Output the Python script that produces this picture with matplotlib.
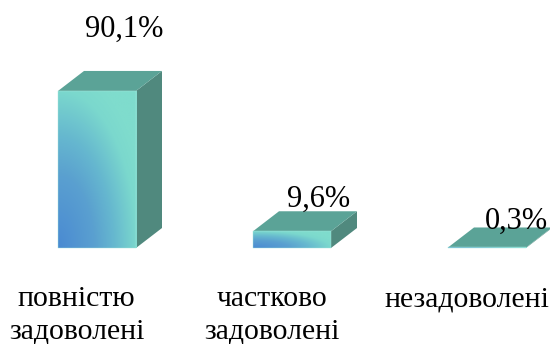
import numpy as np
import matplotlib
matplotlib.use('Agg')
import matplotlib.pyplot as plt
from matplotlib.colors import LinearSegmentedColormap
from matplotlib.patches import Polygon

categories = ['повністю\nзадоволені', 'частково\nзадоволені', 'незадоволені']
values = [90.1, 9.6, 0.3]
value_labels = ['90,1%', '9,6%', '0,3%']

plt.rcParams['font.family'] = ['Liberation Serif', 'DejaVu Serif']

# pixel scale of the picture
px_x = 195.0
px_y = 1.743
x0 = 97
base = 248

fig = plt.figure(figsize=(5.5, 3.44), dpi=100)
ax = fig.add_axes([0, 0, 1, 1])
ax.axis('off')

width = 78 / px_x
dx = 26 / px_x
dy = 20 / px_y

cmap = LinearSegmentedColormap.from_list('front', [(0, '#4a8ad2'), (0.4, '#5aa0d0'), (0.62, '#66b8cf'),
                                                   (0.87, '#7bd8cd'), (1, '#7fdccd')])
u, v = np.meshgrid(np.linspace(0, 1, 120), np.linspace(0, 1, 120))
grad = np.clip(np.sqrt(u ** 2 + v ** 2) / 1.15, 0, 1)

xs = np.arange(len(values))
bars = ax.bar(xs, values, width=width, facecolor='none', edgecolor='#a8e6dc', linewidth=0.3, zorder=4)

for i, bar in enumerate(bars):
    left = bar.get_x()
    right = left + width
    top = bar.get_height()
    ax.add_patch(Polygon([(right, 0), (right + dx, dy), (right + dx, top + dy), (right, top)],
                         facecolor='#50897e', edgecolor='none', zorder=1))
    ax.add_patch(Polygon([(left, top), (right, top), (right + dx, top + dy), (left + dx, top + dy)],
                         facecolor='#5ba397', edgecolor='none', zorder=2))
    im = ax.imshow(grad, cmap=cmap, origin='lower', extent=(left, right, 0, top),
                   aspect='auto', zorder=3, interpolation='bilinear')
    im.set_clip_path(bar)

ax.set_xlim(-x0 / px_x, (550 - x0) / px_x)
ax.set_ylim(-(344 - base) / px_y, base / px_y)

# value labels sit above the back edge of the top face
gaps = [34, 4, -1]
shifts = [27, 27, 29]
for i, (val, txt) in enumerate(zip(values, value_labels)):
    ax.annotate(txt, xy=(xs[i], val + dy), xytext=(shifts[i] * 0.72, gaps[i] * 0.72),
                textcoords='offset points', ha='center', va='baseline',
                fontsize=22, color='black', zorder=5)

for i, cat in enumerate(categories):
    ax.annotate(cat, xy=(xs[i], 0), xytext=(-20.5 * 0.72, -38.5 * 0.72),
                textcoords='offset points', ha='center', va='top',
                fontsize=21.4, color='black', linespacing=1.29)

fig.savefig('out.png', dpi=100)
plt.close()
